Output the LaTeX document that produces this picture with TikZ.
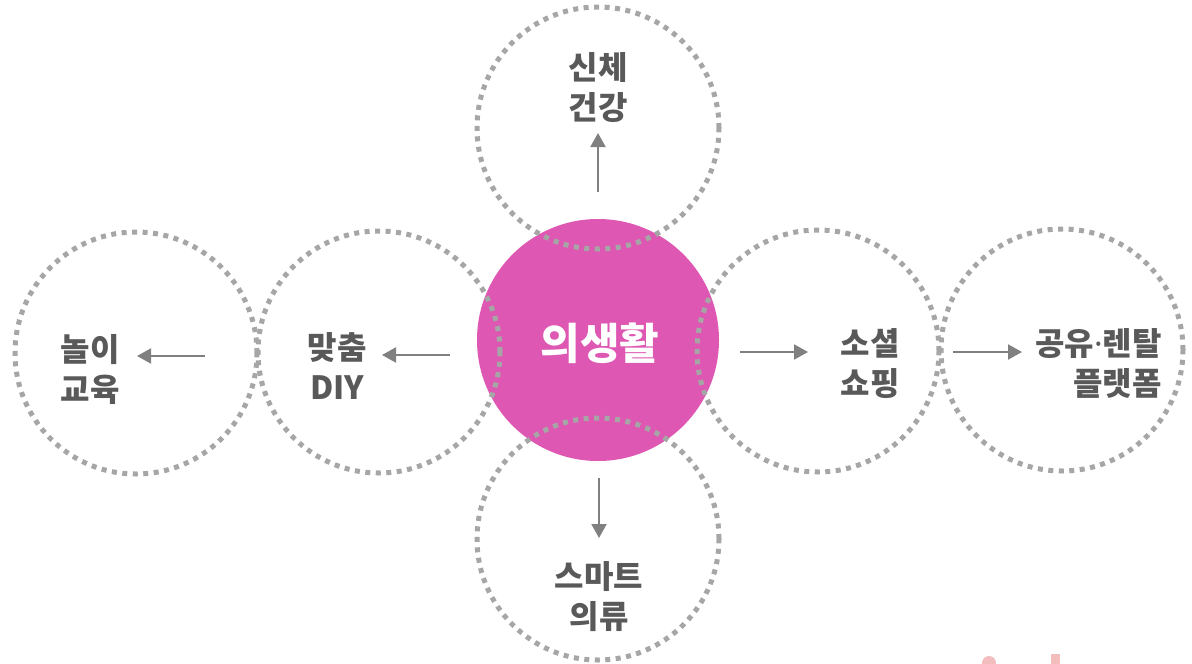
\documentclass[tikz,border=0pt]{standalone}
\usepackage{fontspec}
\usetikzlibrary{arrows.meta, positioning}
\newfontfamily\krfont{Noto Sans CJK KR}
\newfontfamily\dotfont{Noto Sans}
\definecolor{hubpink}{RGB}{222,87,178}
\definecolor{dotgray}{RGB}{166,166,166}
\definecolor{textgray}{RGB}{89,89,89}
\definecolor{arrowgray}{RGB}{128,128,128}
\definecolor{markpink}{RGB}{244,189,189}
\tikzset{
  dotring/.style={circle, draw=dotgray, line width=5pt, dash pattern=on 5pt off 5.5pt,
    minimum size=242pt, inner sep=0pt},
  hub/.style={circle, fill=hubpink, minimum size=242pt, inner sep=0pt},
  lbl/.style={font=\krfont\bfseries\fontsize{32}{40}\selectfont, text=textgray,
    align=center, inner sep=0pt},
  arr/.style={draw=arrowgray, line width=2pt, -{Triangle[length=14pt, width=15pt]}},
}

\begin{document}
\begin{tikzpicture}[x=1pt, y=-1pt]
\useasboundingbox (0,0) rectangle (1192,664);

% === hub ===
\node[hub] (hub) at (598,340) {};

% === dotted rings ===
\node[dotring] (ring-top) at (598,128) {};
\node[dotring] (ring-bottom) at (598,539) {};
\node[dotring] (ring-diy) at (379,352) {};
\node[dotring] (ring-play) at (136,353) {};
\node[dotring] (ring-social) at (818,351) {};
\node[dotring] (ring-share) at (1062,350) {};

% === labels ===
\node[lbl, text=white, font=\krfont\bfseries\fontsize{43}{48}\selectfont] (hub-text) at (600,343) {의생활};
\node[lbl] (health) at (598,88) {신체\\건강};
\node[lbl] (play) at (90,369) {놀이\\교육};
\node[lbl] (diy) at (337,366) {맞춤\\DIY};
\node[lbl] (social) at (870,364) {소셜\\쇼핑};
\node[lbl, align=right, anchor=east] (share) at (1162,363) {공유{\dotfont\bfseries ·}렌탈\\플랫폼};
\node[lbl] (smart) at (599,597) {스마트\\의류};

% === arrows ===
\coordinate (health-tail) at (598,192);
\coordinate (health-tip) at (598,133);
\coordinate (smart-tail) at (599,478);
\coordinate (smart-tip) at (599,538);
\coordinate (diy-tail) at (450,355);
\coordinate (diy-tip) at (382,355);
\coordinate (play-tail) at (205,356);
\coordinate (play-tip) at (137,356);
\coordinate (social-tail) at (740,352);
\coordinate (social-tip) at (808,352);
\coordinate (share-tail) at (953,352);
\coordinate (share-tip) at (1022,352);

\draw[arr] (health-tail) -- (health-tip);
\draw[arr] (smart-tail) -- (smart-tip);
\draw[arr] (diy-tail) -- (diy-tip);
\draw[arr] (play-tail) -- (play-tip);
\draw[arr] (social-tail) -- (social-tip);
\draw[arr] (share-tail) -- (share-tip);

% cut-off marks at the bottom edge
\fill[markpink] (989,663) circle (7pt);
\fill[markpink] (1051,654) rectangle (1060,664);

\end{tikzpicture}
\end{document}
